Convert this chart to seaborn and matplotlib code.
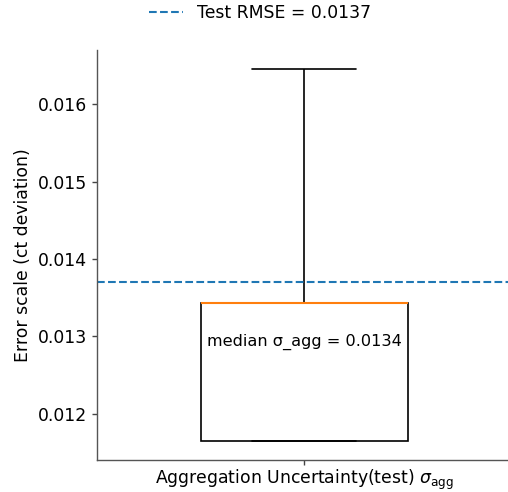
import numpy as np
import pandas as pd
import matplotlib
matplotlib.use("Agg")
import matplotlib.pyplot as plt
import seaborn as sns

# Per-sample aggregation uncertainty on the test split
group_label = r"Aggregation Uncertainty(test) $\sigma_{\mathrm{agg}}$"
sigma_agg = [0.01164, 0.01164, 0.01343, 0.01343, 0.01646]
test_rmse = 0.0137

df = pd.DataFrame({"group": [group_label] * len(sigma_agg), "sigma": sigma_agg})

sns.set_style("ticks")
plt.rcParams["font.family"] = ["DejaVu Sans"]
plt.rcParams["text.color"] = "black"
plt.rcParams["axes.labelcolor"] = "black"

fig = plt.figure(figsize=(5.08, 4.92), dpi=100)
ax = fig.add_axes([97 / 508, 32 / 492, 414 / 508, 410 / 492])

sns.boxplot(
    data=df, x="group", y="sigma", ax=ax,
    width=0.5, whis=(0, 100), color="white", linecolor="black", linewidth=1.2,
    medianprops={"color": "#ff7f0e", "linewidth": 1.5},
)

ax.axhline(test_rmse, color="#1f77b4", linestyle="--", linewidth=1.5,
           label=f"Test RMSE = {test_rmse:.4f}")

median_val = float(np.median(sigma_agg))
ax.text(0, median_val - 0.0005, f"median σ_agg = {median_val:.4f}",
        ha="center", va="center", fontsize=11.6, color="black")

ax.set_xlim(-0.5, 0.5)
ax.set_xlabel("")
ax.set_ylabel("Error scale (ct deviation)", fontsize=12.4, color="black")
ax.tick_params(axis="both", labelsize=12.4, colors="#444444", labelcolor="black",
               length=3.5, width=1.0)
ax.tick_params(axis="x", pad=2.0)
for side in ("top", "right"):
    ax.spines[side].set_visible(False)
for side in ("left", "bottom"):
    ax.spines[side].set_color("#555555")
    ax.spines[side].set_linewidth(1.0)

handles, labels = ax.get_legend_handles_labels()
fig.legend(handles, labels, loc="upper center", bbox_to_anchor=(0.512, 1.024),
           frameon=False, fontsize=12.4, labelcolor="black")

fig.savefig("out.png", dpi=100)
